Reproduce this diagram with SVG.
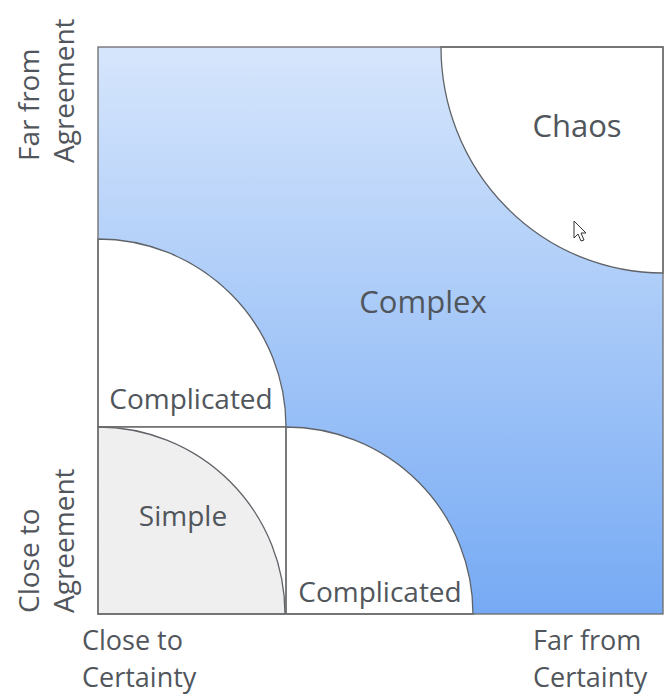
<svg xmlns="http://www.w3.org/2000/svg" width="665" height="696" viewBox="0 0 665 696">
<defs>
<linearGradient id="bg" x1="0" y1="0" x2="0" y2="1">
<stop offset="0" stop-color="#d6e6fc"/>
<stop offset="1" stop-color="#76aaf4"/>
</linearGradient>
<style>
text{font-family:"Open Sans","Liberation Sans",sans-serif;fill:#51565c}
.big{font-size:31px}
.lbl{font-size:28px}
.ax{font-size:28px}
.axh{font-size:27px}
.edge{stroke:#6b6b6b;stroke-width:1.3;fill:none}
.arc{stroke:#5f6368;stroke-width:1.3}
</style>
</defs>
<rect width="665" height="696" fill="#ffffff"/>
<g id="complex">
<rect x="98" y="47" width="565" height="567" fill="url(#bg)"/>
<text class="big" x="423" y="313" text-anchor="middle">Complex</text>
</g>
<g id="chaos">
<path class="arc" d="M 441 47 A 222 226 0 0 0 663 273 L 663 47 Z" fill="#ffffff"/>
<text class="big" x="577" y="137" text-anchor="middle">Chaos</text>
<path d="M574 221 L574 238 L578 234 L581 241 L584 240 L581 233 L586 233 Z" fill="#ffffff" stroke="#333" stroke-width="1"/>
</g>
<g id="complicated-left">
<path class="arc" d="M 98 239 A 188 188 0 0 1 286 427 L 98 427 Z" fill="#ffffff"/>
<text class="lbl" x="191" y="409" text-anchor="middle">Complicated</text>
</g>
<g id="simple">
<rect x="98" y="427" width="188" height="187" fill="#ffffff"/>
<path class="arc" d="M 98 427 A 187 187 0 0 1 285 614 L 98 614 Z" fill="#efefef"/>
<text class="lbl" x="183" y="526" text-anchor="middle">Simple</text>
</g>
<g id="complicated-bottom">
<path class="arc" d="M 286 427 A 187 187 0 0 1 473 614 L 286 614 Z" fill="#ffffff"/>
<text class="lbl" x="380" y="602" text-anchor="middle">Complicated</text>
</g>
<g id="lines">
<rect class="edge" x="98" y="47" width="565" height="567"/>
<line class="edge" x1="98" y1="427" x2="286" y2="427"/>
<line class="edge" x1="286" y1="427" x2="286" y2="614"/>
</g>
<g id="axis-labels">
<text class="axh" x="82" y="650">Close to</text>
<text class="axh" x="82" y="687">Certainty</text>
<text class="axh" x="533" y="650">Far from</text>
<text class="axh" x="533" y="687">Certainty</text>
<text class="ax" transform="translate(39,161) rotate(-90)">Far from</text>
<text class="ax" transform="translate(74,163) rotate(-90)">Agreement</text>
<text class="ax" transform="translate(39,613) rotate(-90)">Close to</text>
<text class="ax" transform="translate(74,613) rotate(-90)">Agreement</text>
</g>
</svg>
